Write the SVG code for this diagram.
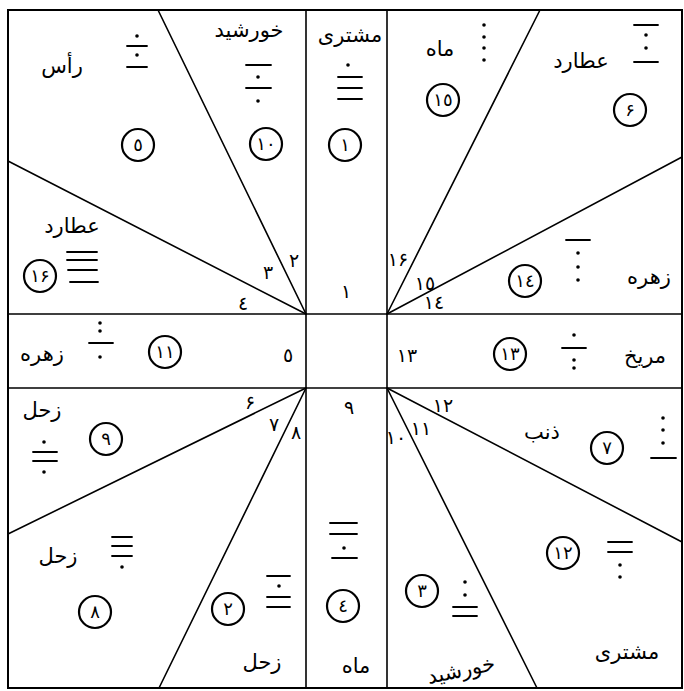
<svg xmlns="http://www.w3.org/2000/svg" width="684" height="691" viewBox="0 0 684 691">
<style>
.bg{fill:#fff}
.ln{stroke:#000;stroke-width:1.6;fill:none;stroke-linecap:round}
.fr{stroke:#000;stroke-width:2;fill:none}
.c{fill:none;stroke:#000;stroke-width:2.2}
.fl{stroke:#000;stroke-width:1.8;stroke-linecap:round}
.fd{fill:#000}
text{font-family:"DejaVu Sans","Noto Sans",sans-serif;fill:#000;text-anchor:middle}
.w{font-size:21px}
.n{font-size:19px}
.cn{font-size:18px}
</style>
<rect class="bg" x="0" y="0" width="684" height="691"/>
<g id="connectors">
<rect class="fr" x="8" y="10" width="674" height="678"/>
<line class="ln" x1="306" y1="10" x2="306" y2="688"/>
<line class="ln" x1="387" y1="10" x2="387" y2="688"/>
<line class="ln" x1="8" y1="314" x2="682" y2="314"/>
<line class="ln" x1="8" y1="388" x2="682" y2="388"/>
<line class="ln" x1="306" y1="314" x2="158" y2="10"/>
<line class="ln" x1="306" y1="314" x2="8" y2="161"/>
<line class="ln" x1="387" y1="314" x2="540" y2="10"/>
<line class="ln" x1="387" y1="314" x2="682" y2="157"/>
<line class="ln" x1="306" y1="388" x2="8" y2="534"/>
<line class="ln" x1="306" y1="388" x2="159" y2="688"/>
<line class="ln" x1="387" y1="388" x2="682" y2="542"/>
<line class="ln" x1="387" y1="388" x2="537" y2="688"/>
</g>
<g id="cell5">
<text class="w" x="62" y="73">رأس</text>
<circle class="fd" cx="137" cy="36" r="1.8"/><line class="fl" x1="127" y1="46" x2="147" y2="46"/><circle class="fd" cx="137" cy="55" r="1.8"/><line class="fl" x1="127" y1="67" x2="147" y2="67"/>
<circle class="c" cx="138" cy="145" r="16"/><text class="cn" x="138" y="151">٥</text>
</g>
<g id="cell10">
<text class="w" x="249" y="37">خورشید</text>
<line class="fl" x1="246" y1="65" x2="271" y2="65"/><circle class="fd" cx="258" cy="77" r="1.8"/><line class="fl" x1="246" y1="88" x2="271" y2="88"/><circle class="fd" cx="258" cy="101" r="1.8"/>
<circle class="c" cx="266" cy="144" r="16"/><text class="cn" x="266" y="150">١٠</text>
</g>
<g id="cell1">
<text class="w" x="350" y="42">مشتری</text>
<circle class="fd" cx="348" cy="65" r="1.8"/><line class="fl" x1="338" y1="77" x2="362" y2="77"/><line class="fl" x1="338" y1="88" x2="362" y2="88"/><line class="fl" x1="338" y1="99" x2="362" y2="99"/>
<circle class="c" cx="345" cy="145" r="16"/><text class="cn" x="345" y="151">١</text>
<text class="n" x="346" y="298">١</text>
</g>
<g id="cell15">
<text class="w" x="440" y="56">ماه</text>
<circle class="fd" cx="484" cy="25" r="1.8"/><circle class="fd" cx="484" cy="37" r="1.8"/><circle class="fd" cx="484" cy="48" r="1.8"/><circle class="fd" cx="484" cy="60" r="1.8"/>
<circle class="c" cx="443" cy="100" r="16"/><text class="cn" x="443" y="106">١٥</text>
</g>
<g id="cell6">
<text class="w" x="581" y="68">عطارد</text>
<line class="fl" x1="634" y1="25" x2="658" y2="25"/><circle class="fd" cx="646" cy="35" r="1.8"/><circle class="fd" cx="646" cy="48" r="1.8"/><line class="fl" x1="634" y1="62" x2="658" y2="62"/>
<circle class="c" cx="630" cy="110" r="16"/><text class="cn" x="630" y="116">۶</text>
</g>
<g id="cell14">
<text class="w" x="649" y="284">زهره</text>
<line class="fl" x1="566" y1="240" x2="590" y2="240"/><circle class="fd" cx="578" cy="253" r="1.8"/><circle class="fd" cx="578" cy="267" r="1.8"/><circle class="fd" cx="578" cy="280" r="1.8"/>
<circle class="c" cx="525" cy="281" r="16"/><text class="cn" x="525" y="287">١٤</text>
</g>
<g id="cell16">
<text class="w" x="72" y="233">عطارد</text>
<line class="fl" x1="67" y1="252" x2="97" y2="252"/><line class="fl" x1="67" y1="260" x2="97" y2="260"/><line class="fl" x1="68" y1="270" x2="97" y2="270"/><line class="fl" x1="70" y1="282" x2="98" y2="282"/>
<circle class="c" cx="40" cy="276" r="16"/><text class="cn" x="40" y="282">١۶</text>
</g>
<g id="cell11">
<text class="w" x="42" y="361">زهره</text>
<circle class="fd" cx="100" cy="323" r="1.8"/><circle class="fd" cx="100" cy="331" r="1.8"/><line class="fl" x1="89" y1="343" x2="113" y2="343"/><circle class="fd" cx="100" cy="357" r="1.8"/>
<circle class="c" cx="165" cy="352" r="16"/><text class="cn" x="165" y="358">١١</text>
<text class="n" x="288" y="362">٥</text>
</g>
<g id="cell13">
<text class="n" x="407" y="362">١٣</text>
<circle class="c" cx="510" cy="354" r="16"/><text class="cn" x="510" y="360">١٣</text>
<circle class="fd" cx="574" cy="335" r="1.8"/><line class="fl" x1="562" y1="348" x2="586" y2="348"/><circle class="fd" cx="574" cy="360" r="1.8"/><circle class="fd" cx="574" cy="368" r="1.8"/>
<text class="w" x="645" y="363">مریخ</text>
</g>
<g id="cell9">
<text class="w" x="42" y="417">زحل</text>
<circle class="fd" cx="44" cy="442" r="1.8"/><line class="fl" x1="33" y1="452" x2="57" y2="452"/><line class="fl" x1="33" y1="461" x2="57" y2="461"/><circle class="fd" cx="44" cy="472" r="1.8"/>
<circle class="c" cx="106" cy="439" r="16"/><text class="cn" x="106" y="445">٩</text>
</g>
<g id="cell8">
<text class="w" x="58" y="563">زحل</text>
<line class="fl" x1="112" y1="537" x2="132" y2="537"/><line class="fl" x1="112" y1="546" x2="132" y2="546"/><line class="fl" x1="112" y1="556" x2="132" y2="556"/><circle class="fd" cx="122" cy="567" r="1.8"/>
<circle class="c" cx="95" cy="612" r="16"/><text class="cn" x="95" y="618">٨</text>
</g>
<g id="cell2">
<line class="fl" x1="267" y1="576" x2="290" y2="576"/><circle class="fd" cx="279" cy="586" r="1.8"/><line class="fl" x1="267" y1="597" x2="290" y2="597"/><line class="fl" x1="267" y1="607" x2="290" y2="607"/>
<circle class="c" cx="228" cy="609" r="16"/><text class="cn" x="228" y="615">٢</text>
<text class="w" x="262" y="669">زحل</text>
</g>
<g id="cell4">
<text class="n" x="349" y="414">٩</text>
<line class="fl" x1="330" y1="523" x2="357" y2="523"/><line class="fl" x1="330" y1="534" x2="357" y2="534"/><circle class="fd" cx="344" cy="548" r="1.8"/><line class="fl" x1="332" y1="558" x2="357" y2="558"/>
<circle class="c" cx="343" cy="606" r="16"/><text class="cn" x="343" y="612">٤</text>
<text class="w" x="356" y="673">ماه</text>
</g>
<g id="cell3">
<circle class="c" cx="422" cy="591" r="16"/><text class="cn" x="422" y="597">٣</text>
<circle class="fd" cx="465" cy="582" r="1.8"/><circle class="fd" cx="465" cy="595" r="1.8"/><line class="fl" x1="453" y1="607" x2="477" y2="607"/><line class="fl" x1="453" y1="616" x2="477" y2="616"/>
<text class="w" x="461" y="677" transform="rotate(-12 461 670)">خورشید</text>
</g>
<g id="cell7">
<text class="w" x="542" y="439">ذنب</text>
<circle class="c" cx="607" cy="448" r="16"/><text class="cn" x="607" y="454">٧</text>
<circle class="fd" cx="663" cy="418" r="1.8"/><circle class="fd" cx="663" cy="430" r="1.8"/><circle class="fd" cx="663" cy="443" r="1.8"/><line class="fl" x1="651" y1="458" x2="676" y2="458"/>
</g>
<g id="cell12">
<circle class="c" cx="563" cy="553" r="16"/><text class="cn" x="563" y="559">١٢</text>
<line class="fl" x1="608" y1="542" x2="632" y2="542"/><line class="fl" x1="608" y1="552" x2="632" y2="552"/><circle class="fd" cx="620" cy="565" r="1.8"/><circle class="fd" cx="620" cy="577" r="1.8"/>
<text class="w" x="627" y="659">مشتری</text>
</g>
<g id="angles">
<text class="n" x="294" y="267">٢</text>
<text class="n" x="268" y="279">٣</text>
<text class="n" x="243" y="310">٤</text>
<text class="n" x="398" y="266">١۶</text>
<text class="n" x="425" y="290">١٥</text>
<text class="n" x="434" y="309">١٤</text>
<text class="n" x="250" y="409">۶</text>
<text class="n" x="274" y="431">٧</text>
<text class="n" x="296" y="439">٨</text>
<text class="n" x="396" y="444">١٠</text>
<text class="n" x="421" y="435">١١</text>
<text class="n" x="443" y="412">١٢</text>
</g>
</svg>
